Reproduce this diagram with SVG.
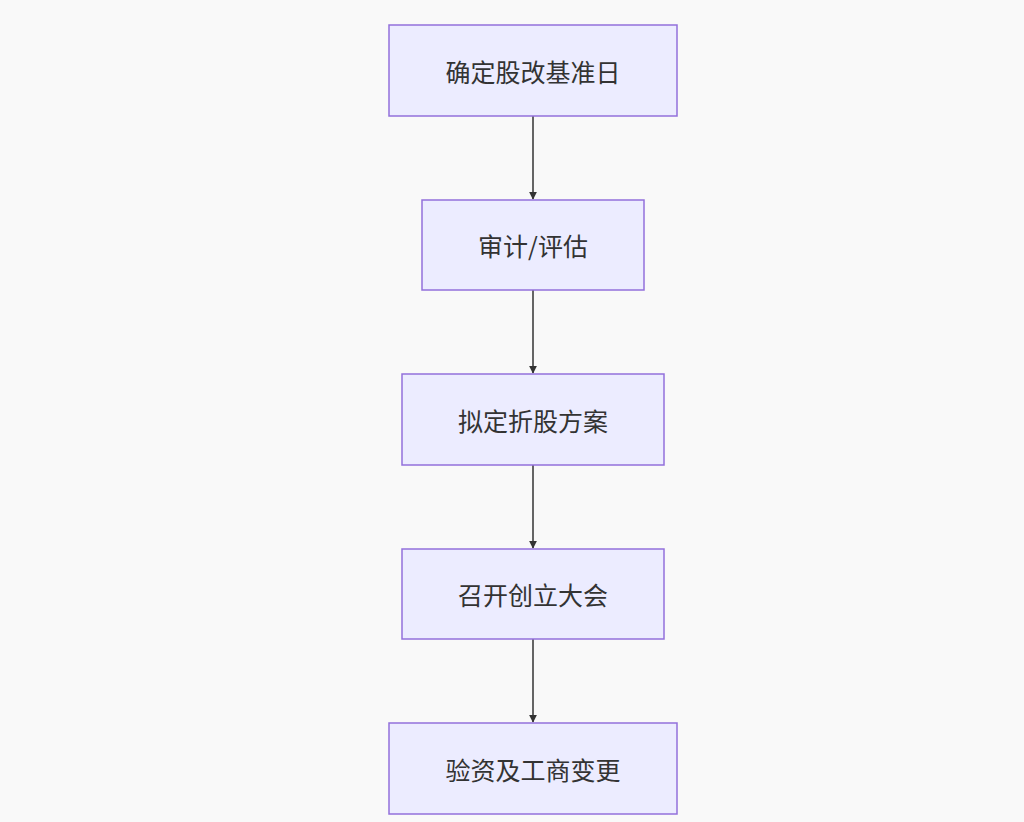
<svg xmlns="http://www.w3.org/2000/svg" width="1024" height="822" viewBox="0 0 1024 822">
<style>
.n rect{fill:#ECECFF;stroke:#9370DB;stroke-width:1.5}
.n text{font-family:"Noto Sans CJK SC","Noto Sans",sans-serif;font-size:25px;fill:#333;text-anchor:middle;dominant-baseline:central}
.e line{stroke:#333;stroke-width:1.5;marker-end:url(#a)}
</style>
<defs><marker id="a" viewBox="0 0 10 10" refX="9" refY="5" markerWidth="8" markerHeight="8" markerUnits="userSpaceOnUse" orient="auto"><path d="M0,0L10,5L0,10z" fill="#333"/></marker></defs>
<rect width="1024" height="822" fill="#f9f9f9"/>
<g class="e">
<line x1="533" y1="116" x2="533" y2="199"/>
<line x1="533" y1="290" x2="533" y2="373"/>
<line x1="533" y1="465" x2="533" y2="548"/>
<line x1="533" y1="639" x2="533" y2="722"/>
</g>
<g class="n" id="n1"><rect x="389" y="25" width="288" height="91"/><text x="533" y="71">确定股改基准日</text></g>
<g class="n" id="n2"><rect x="422" y="200" width="222" height="90"/><text x="533" y="245">审计/评估</text></g>
<g class="n" id="n3"><rect x="402" y="374" width="262" height="91"/><text x="533" y="420">拟定折股方案</text></g>
<g class="n" id="n4"><rect x="402" y="549" width="262" height="90"/><text x="533" y="594">召开创立大会</text></g>
<g class="n" id="n5"><rect x="389" y="723" width="288" height="91"/><text x="533" y="769">验资及工商变更</text></g>
</svg>
